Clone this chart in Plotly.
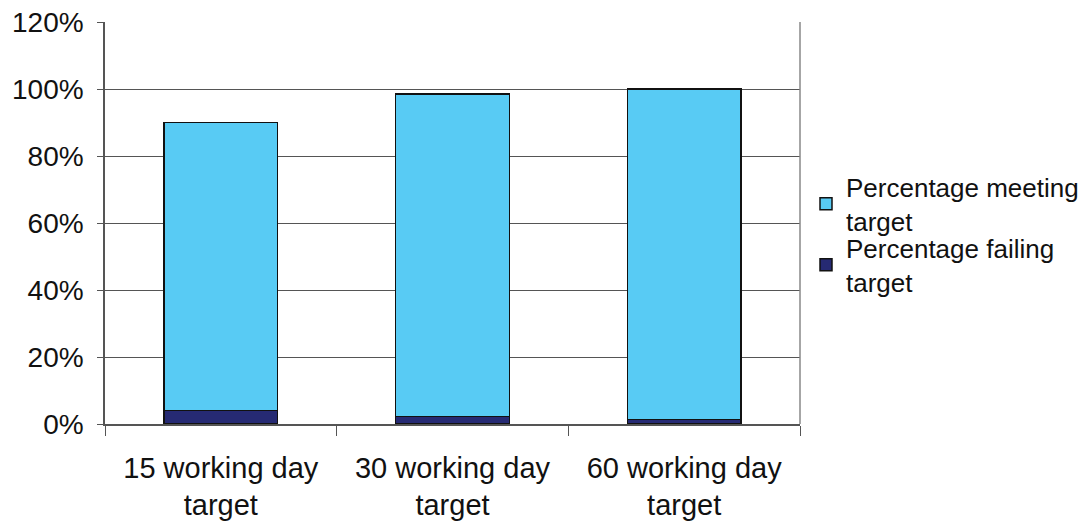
import plotly.graph_objects as go

categories = ["15 working day<br>target", "30 working day<br>target", "60 working day<br>target"]
failing = [4.0, 2.3, 1.3]
meeting = [86.0, 96.2, 98.7]
y_ticks = [0, 20, 40, 60, 80, 100, 120]
y_tick_labels = ["0%", "20%", "40%", "60%", "80%", "100%", "120%"]

font_family = "Liberation Sans, Arial, sans-serif"

fig = go.Figure()
fig.add_trace(go.Bar(
    x=categories, y=failing, name="Percentage failing<br>target",
    marker=dict(color="#262a73", line=dict(color="#111111", width=1.5)),
    legend="legend2", showlegend=True,
))
fig.add_trace(go.Bar(
    x=categories, y=meeting, name="Percentage meeting<br>target",
    marker=dict(color="#58cbf4", line=dict(color="#111111", width=1.5)),
    legend="legend", showlegend=True,
))

legend_style = dict(
    xref="container", yref="container",
    x=806 / 1086, xanchor="left", yanchor="middle",
    font=dict(size=26), itemwidth=30, visible=True,
    bgcolor="rgba(0,0,0,0)",
)

fig.update_layout(
    showlegend=True,
    barmode="stack",
    bargap=0.51,
    width=1086, height=521,
    margin=dict(l=105, r=286, t=22, b=97, autoexpand=False),
    plot_bgcolor="white", paper_bgcolor="white",
    font=dict(family=font_family, size=26, color="#111111"),
    legend=dict(y=1 - 204 / 521, **legend_style),
    legend2=dict(y=1 - 265 / 521, **legend_style),
    xaxis=dict(
        automargin=False,
        showline=True, linecolor="#555555", linewidth=1.5,
        ticks="outside", tickson="boundaries", ticklen=10,
        tickcolor="#555555", tickfont=dict(size=29),
        ticklabelstandoff=17,
    ),
    yaxis=dict(
        automargin=False,
        range=[0, 120], tickvals=y_ticks, ticktext=y_tick_labels,
        showgrid=True, gridcolor="#555555", gridwidth=1,
        showline=True, linecolor="#555555", linewidth=1.5,
        ticks="outside", ticklen=6, tickcolor="#555555",
        tickfont=dict(size=28), ticklabelstandoff=8,
        zeroline=False,
    ),
)
# right border of the plotting area
fig.add_shape(type="line", xref="paper", yref="paper", x0=1, x1=1, y0=0, y1=1,
              line=dict(color="#888888", width=1.5))

fig.write_html("out.html")
